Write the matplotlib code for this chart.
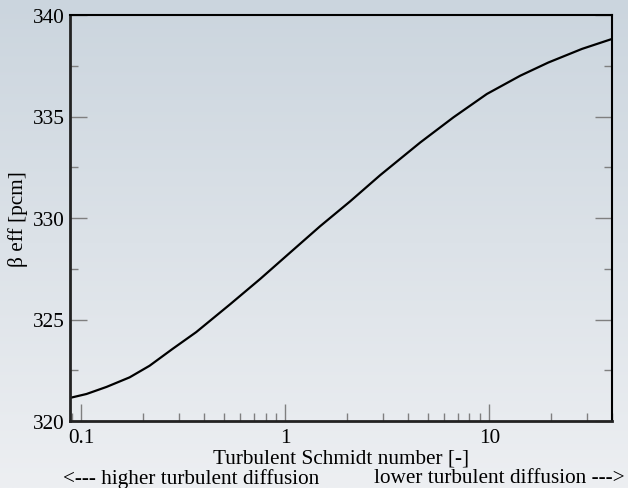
import matplotlib.pyplot as plt
import numpy as np
from matplotlib.ticker import FixedLocator, NullFormatter, LogLocator

plt.rcParams['font.family'] = ['Liberation Serif', 'DejaVu Serif']

# turbulent Schmidt number vs beta eff
sct = [0.089, 0.106, 0.133, 0.1725, 0.216, 0.28, 0.366, 0.538, 0.754, 1.06,
       1.48, 2.08, 2.92, 4.59, 6.68, 9.74, 14.2, 19.5, 28.5, 40.0]
beta = [321.15, 321.33, 321.68, 322.15, 322.72, 323.55, 324.38, 325.76, 327.0,
        328.31, 329.59, 330.82, 332.11, 333.72, 334.96, 336.11, 337.01, 337.66,
        338.33, 338.82]

fig = plt.figure(figsize=(6.28, 4.89), dpi=100)

# gradient background over whole figure
bg = fig.add_axes([0, 0, 1, 1], zorder=-10)
top = np.array([203, 213, 222]) / 255
bot = np.array([237, 239, 242]) / 255
t = np.linspace(0, 1, 256)[:, None]
grad = (top * (1 - t) + bot * t)[:, None, :]
bg.imshow(grad, aspect='auto', extent=[0, 1, 0, 1])
bg.axis('off')

ax = fig.add_axes([70 / 628, 1 - 422 / 489, 542 / 628, 406 / 489])
ax.patch.set_alpha(0)
ax.plot(sct, beta, color='black', lw=1.6)

ax.set_xscale('log')
ax.set_xlim(0.088, 40)
ax.set_ylim(320, 340)
ax.set_xticks([0.1, 1, 10])
ax.set_xticklabels(['0.1', '1', '10'])
ax.xaxis.set_minor_locator(LogLocator(base=10, subs=np.arange(2, 10)))
ax.xaxis.set_minor_formatter(NullFormatter())
ax.set_yticks([320, 325, 330, 335, 340])
ax.yaxis.set_minor_locator(FixedLocator(np.arange(322.5, 340, 5)))

fs = 15.3
ax.tick_params(which='both', direction='in', colors='#7f7f7f', labelcolor='black',
               labelsize=fs, right=True, top=False, width=1.0)
ax.tick_params(which='major', length=12)
ax.tick_params(which='minor', length=6)
ax.tick_params(axis='x', pad=5)
ax.tick_params(axis='y', pad=4)

for s in ['left', 'bottom']:
    ax.spines[s].set_linewidth(2.0)
    ax.spines[s].set_color('#222222')
for s in ['top', 'right']:
    ax.spines[s].set_linewidth(1.5)
    ax.spines[s].set_color('black')

ax.set_xlabel('Turbulent Schmidt number [-]', fontsize=fs, labelpad=1)
ax.set_ylabel('β eff [pcm]', fontsize=fs, labelpad=3)

fig.text(63 / 628, 1 - 479 / 489, '<--- higher turbulent diffusion', fontsize=fs,
         ha='left', va='center')
fig.text(625 / 628, 1 - 479 / 489, 'lower turbulent diffusion --->', fontsize=fs,
         ha='right', va='center')

plt.savefig('out.png', dpi=100)
